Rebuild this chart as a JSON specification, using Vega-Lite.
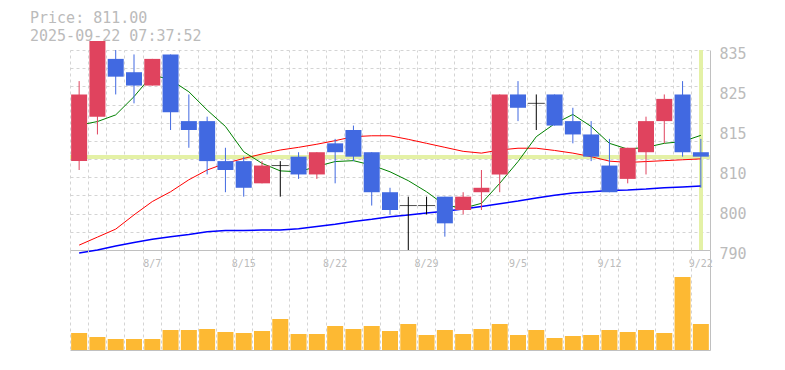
{
  "$schema": "https://vega.github.io/schema/vega-lite/v6.json",
  "padding": {"left": 30, "top": 10, "right": 5, "bottom": 5},
  "background": "white",
  "title": {
    "text": "Price: 811.00",
    "subtitle": "2025-09-22 07:37:52",
    "anchor": "start",
    "frame": "group",
    "dx": -40,
    "offset": -3,
    "subtitlePadding": 3,
    "font": "DejaVu Sans Mono",
    "fontSize": 15,
    "fontWeight": "normal",
    "color": "#bbbbbb",
    "subtitleFont": "DejaVu Sans Mono",
    "subtitleFontSize": 15,
    "subtitleColor": "#bbbbbb"
  },
  "data": {
    "values": [
      {"date": "8/1", "open": 810, "high": 828, "low": 808, "close": 825, "vol": 17000, "ma5": 818.1, "ma25": 791.1, "ma75": 789.3},
      {"date": "8/4", "open": 820, "high": 837, "low": 816, "close": 837, "vol": 13000, "ma5": 818.9, "ma25": 792.9, "ma75": 790.0},
      {"date": "8/5", "open": 833, "high": 835, "low": 825, "close": 829, "vol": 11000, "ma5": 820.4, "ma25": 794.7, "ma75": 790.9},
      {"date": "8/6", "open": 830, "high": 834, "low": 823, "close": 827, "vol": 11000, "ma5": 824.5, "ma25": 797.9, "ma75": 791.7},
      {"date": "8/7", "open": 827, "high": 833, "low": 827, "close": 833, "vol": 11000, "ma5": 829.4, "ma25": 800.9, "ma75": 792.4},
      {"date": "8/8", "open": 834, "high": 834, "low": 817, "close": 821, "vol": 20000, "ma5": 828.3, "ma25": 803.1, "ma75": 793.0},
      {"date": "8/12", "open": 819, "high": 825, "low": 813, "close": 817, "vol": 20000, "ma5": 825.6, "ma25": 805.8, "ma75": 793.5},
      {"date": "8/13", "open": 819, "high": 820, "low": 807, "close": 810, "vol": 21000, "ma5": 821.5, "ma25": 808.0, "ma75": 794.1},
      {"date": "8/14", "open": 810, "high": 813, "low": 803, "close": 808, "vol": 18000, "ma5": 817.8, "ma25": 809.5, "ma75": 794.4},
      {"date": "8/15", "open": 810, "high": 811, "low": 802, "close": 804, "vol": 17000, "ma5": 812.1, "ma25": 810.6, "ma75": 794.4},
      {"date": "8/18", "open": 805, "high": 810, "low": 805, "close": 809, "vol": 19000, "ma5": 809.5, "ma25": 811.6, "ma75": 794.5},
      {"date": "8/19", "open": 809, "high": 810, "low": 802, "close": 809, "vol": 31000, "ma5": 807.8, "ma25": 812.5, "ma75": 794.5},
      {"date": "8/20", "open": 811, "high": 812, "low": 806, "close": 807, "vol": 16000, "ma5": 807.6, "ma25": 813.1, "ma75": 794.8},
      {"date": "8/21", "open": 807, "high": 812, "low": 806, "close": 812, "vol": 16000, "ma5": 808.8, "ma25": 813.8, "ma75": 795.3},
      {"date": "8/22", "open": 814, "high": 815, "low": 805, "close": 812, "vol": 24000, "ma5": 809.9, "ma25": 814.6, "ma75": 795.8},
      {"date": "8/25", "open": 817, "high": 818, "low": 810, "close": 811, "vol": 21000, "ma5": 810.1, "ma25": 815.5, "ma75": 796.4},
      {"date": "8/26", "open": 812, "high": 812, "low": 800, "close": 803, "vol": 24000, "ma5": 809.1, "ma25": 815.7, "ma75": 796.9},
      {"date": "8/27", "open": 803, "high": 804, "low": 798, "close": 799, "vol": 19000, "ma5": 807.6, "ma25": 815.7, "ma75": 797.5},
      {"date": "8/28", "open": 800, "high": 802, "low": 790, "close": 800, "vol": 26000, "ma5": 805.6, "ma25": 814.9, "ma75": 797.9},
      {"date": "8/29", "open": 800, "high": 802, "low": 798, "close": 800, "vol": 15000, "ma5": 803.1, "ma25": 814.0, "ma75": 798.3},
      {"date": "9/1", "open": 802, "high": 802, "low": 793, "close": 796, "vol": 20000, "ma5": 800.1, "ma25": 813.1, "ma75": 798.7},
      {"date": "9/2", "open": 799, "high": 803, "low": 798, "close": 802, "vol": 16000, "ma5": 799.4, "ma25": 812.2, "ma75": 799.2},
      {"date": "9/3", "open": 803, "high": 808, "low": 799, "close": 804, "vol": 21000, "ma5": 800.5, "ma25": 811.8, "ma75": 799.8},
      {"date": "9/4", "open": 807, "high": 825, "low": 803, "close": 825, "vol": 26000, "ma5": 805.0, "ma25": 812.5, "ma75": 800.4},
      {"date": "9/5", "open": 825, "high": 828, "low": 819, "close": 822, "vol": 15000, "ma5": 809.9, "ma25": 812.9, "ma75": 801.0},
      {"date": "9/8", "open": 823, "high": 825, "low": 817, "close": 823, "vol": 20000, "ma5": 815.5, "ma25": 812.9, "ma75": 801.7},
      {"date": "9/9", "open": 825, "high": 825, "low": 818, "close": 818, "vol": 12000, "ma5": 818.4, "ma25": 812.4, "ma75": 802.3},
      {"date": "9/10", "open": 819, "high": 822, "low": 814, "close": 816, "vol": 14000, "ma5": 820.5, "ma25": 811.8, "ma75": 802.8},
      {"date": "9/11", "open": 816, "high": 819, "low": 810, "close": 811, "vol": 15000, "ma5": 817.8, "ma25": 811.0, "ma75": 803.1},
      {"date": "9/12", "open": 809, "high": 815, "low": 803, "close": 803, "vol": 20000, "ma5": 814.0, "ma25": 810.0, "ma75": 803.4},
      {"date": "9/16", "open": 806, "high": 813, "low": 805, "close": 813, "vol": 18000, "ma5": 812.7, "ma25": 809.7, "ma75": 803.5},
      {"date": "9/17", "open": 812, "high": 820, "low": 807, "close": 819, "vol": 20000, "ma5": 813.1, "ma25": 809.9, "ma75": 803.7},
      {"date": "9/18", "open": 819, "high": 825, "low": 814, "close": 824, "vol": 17000, "ma5": 814.0, "ma25": 810.1, "ma75": 804.0},
      {"date": "9/19", "open": 825, "high": 828, "low": 811, "close": 812, "vol": 73000, "ma5": 814.4, "ma25": 810.3, "ma75": 804.2},
      {"date": "9/22", "open": 812, "high": 815, "low": 804, "close": 811, "vol": 26000, "ma5": 815.8, "ma25": 810.5, "ma75": 804.4}
    ]
  },
  "bounds": "flush",
  "spacing": 0,
  "vconcat": [
    {
      "width": 640,
      "height": 200,
      "resolve": {"axis": {"x": "independent", "y": "independent"}},
      "layer": [
        {
          "mark": {"type": "rule", "color": "#e4f1a6", "strokeWidth": 3.5},
          "encoding": {
            "y": {"datum": 811, "type": "quantitative", "axis": null, "scale": {"domain": [790, 835], "nice": false, "zero": false}}
          }
        },
        {
          "mark": {"type": "rule", "color": "#e4f1a6", "strokeWidth": 3},
          "encoding": {
            "x": {"datum": "9/22", "type": "nominal", "axis": null}
          }
        },
        {
          "mark": {"type": "line", "color": "#0000ff", "strokeWidth": 1.5},
          "encoding": {
            "x": {
              "field": "date", "type": "nominal",
              "scale": {"domain": ["8/1","8/4","8/5","8/6","8/7","8/8","8/12","8/13","8/14","8/15","8/18","8/19","8/20","8/21","8/22","8/25","8/26","8/27","8/28","8/29","9/1","9/2","9/3","9/4","9/5","9/8","9/9","9/10","9/11","9/12","9/16","9/17","9/18","9/19","9/22"], "paddingInner": 0, "paddingOuter": 0},
              "axis": {
                "orient": "top", "bandPosition": 0, "grid": true, "gridColor": "#d4d4d4", "gridDash": [3, 3], "gridWidth": 1,
                "ticks": false, "tickSize": 0, "domain": false, "labels": false, "title": null
              }
            },
            "y": {
              "field": "ma75", "type": "quantitative",
              "axis": {
                "orient": "left", "values": [790, 794.0909, 798.1818, 802.2727, 806.3636, 810.4545, 814.5455, 818.6364, 822.7273, 826.8182, 830.9091, 835],
                "grid": true, "gridColor": "#d4d4d4", "gridDash": [3, 3], "gridWidth": 1,
                "labels": false, "ticks": false, "domain": false, "title": null
              }
            }
          }
        },
        {
          "mark": {"type": "line", "color": "#ff0000", "strokeWidth": 1},
          "encoding": {
            "x": {"field": "date", "type": "nominal", "axis": null},
            "y": {"field": "ma25", "type": "quantitative", "axis": null}
          }
        },
        {
          "mark": {"type": "line", "color": "#008000", "strokeWidth": 1},
          "encoding": {
            "x": {"field": "date", "type": "nominal", "axis": null},
            "y": {"field": "ma5", "type": "quantitative", "axis": null}
          }
        },
        {
          "mark": {"type": "rule", "strokeWidth": 1},
          "encoding": {
            "x": {"field": "date", "type": "nominal", "axis": null},
            "y": {"field": "low", "type": "quantitative", "axis": null},
            "y2": {"field": "high"},
            "color": {
              "condition": [
                {"test": "datum.close > datum.open", "value": "#e0435e"},
                {"test": "datum.close < datum.open", "value": "#4169e1"}
              ],
              "value": "#000000"
            }
          }
        },
        {
          "mark": {"type": "bar", "width": 16},
          "encoding": {
            "x": {
              "field": "date", "type": "nominal",
              "axis": {
                "orient": "bottom", "values": ["8/7", "8/15", "8/22", "8/29", "9/5", "9/12", "9/22"],
                "grid": false, "ticks": false, "tickSize": 0, "domain": true, "domainColor": "#c0c0c0", "domainWidth": 1,
                "labelPadding": 8, "labelAngle": 0, "labelAlign": "center", "labelBaseline": "top",
                "labelFont": "DejaVu Sans Mono", "labelFontSize": 10, "labelColor": "#bbbbbb", "labelOverlap": false, "labelFlush": false, "title": null
              }
            },
            "y": {
              "field": "open", "type": "quantitative",
              "axis": {
                "orient": "right", "values": [790, 799, 808, 817, 826, 835],
                "labelExpr": "format(round(datum.value / 5) * 5, 'd')",
                "grid": false, "ticks": false, "tickSize": 0, "domain": true, "domainColor": "#c0c0c0", "domainWidth": 1,
                "labelPadding": 9, "labelFont": "DejaVu Sans Mono", "labelFontSize": 15, "labelColor": "#bbbbbb",
                "labelBaseline": "alphabetic", "labelOffset": 8, "labelFlush": false, "labelOverlap": false, "title": null
              }
            },
            "y2": {"field": "close"},
            "color": {
              "condition": [
                {"test": "datum.close > datum.open", "value": "#e0435e"},
                {"test": "datum.close < datum.open", "value": "#4169e1"}
              ],
              "value": "#000000"
            }
          }
        },
        {
          "transform": [{"filter": "datum.open == datum.close"}],
          "mark": {"type": "tick", "color": "#000000", "thickness": 1, "size": 17, "orient": "horizontal"},
          "encoding": {
            "x": {"field": "date", "type": "nominal", "axis": null},
            "y": {"field": "open", "type": "quantitative", "axis": null}
          }
        }
      ]
    },
    {
      "width": 640,
      "height": 100,
      "mark": {"type": "bar", "color": "#fdb933", "width": 16},
      "encoding": {
        "x": {
          "field": "date", "type": "nominal",
          "scale": {"domain": ["8/1","8/4","8/5","8/6","8/7","8/8","8/12","8/13","8/14","8/15","8/18","8/19","8/20","8/21","8/22","8/25","8/26","8/27","8/28","8/29","9/1","9/2","9/3","9/4","9/5","9/8","9/9","9/10","9/11","9/12","9/16","9/17","9/18","9/19","9/22"], "paddingInner": 0, "paddingOuter": 0},
          "axis": {"bandPosition": 0, "grid": true, "gridColor": "#d4d4d4", "gridDash": [3, 3], "gridWidth": 1, "labels": false, "ticks": false, "tickSize": 0, "domain": true, "domainColor": "#c0c0c0", "title": null}
        },
        "y": {
          "field": "vol", "type": "quantitative",
          "scale": {"domain": [0, 100000], "nice": false},
          "axis": {"orient": "right", "labels": false, "ticks": false, "tickSize": 0, "grid": false, "domain": true, "domainColor": "#c0c0c0", "title": null}
        }
      }
    }
  ],
  "config": {
    "view": {"stroke": null}
  }
}
